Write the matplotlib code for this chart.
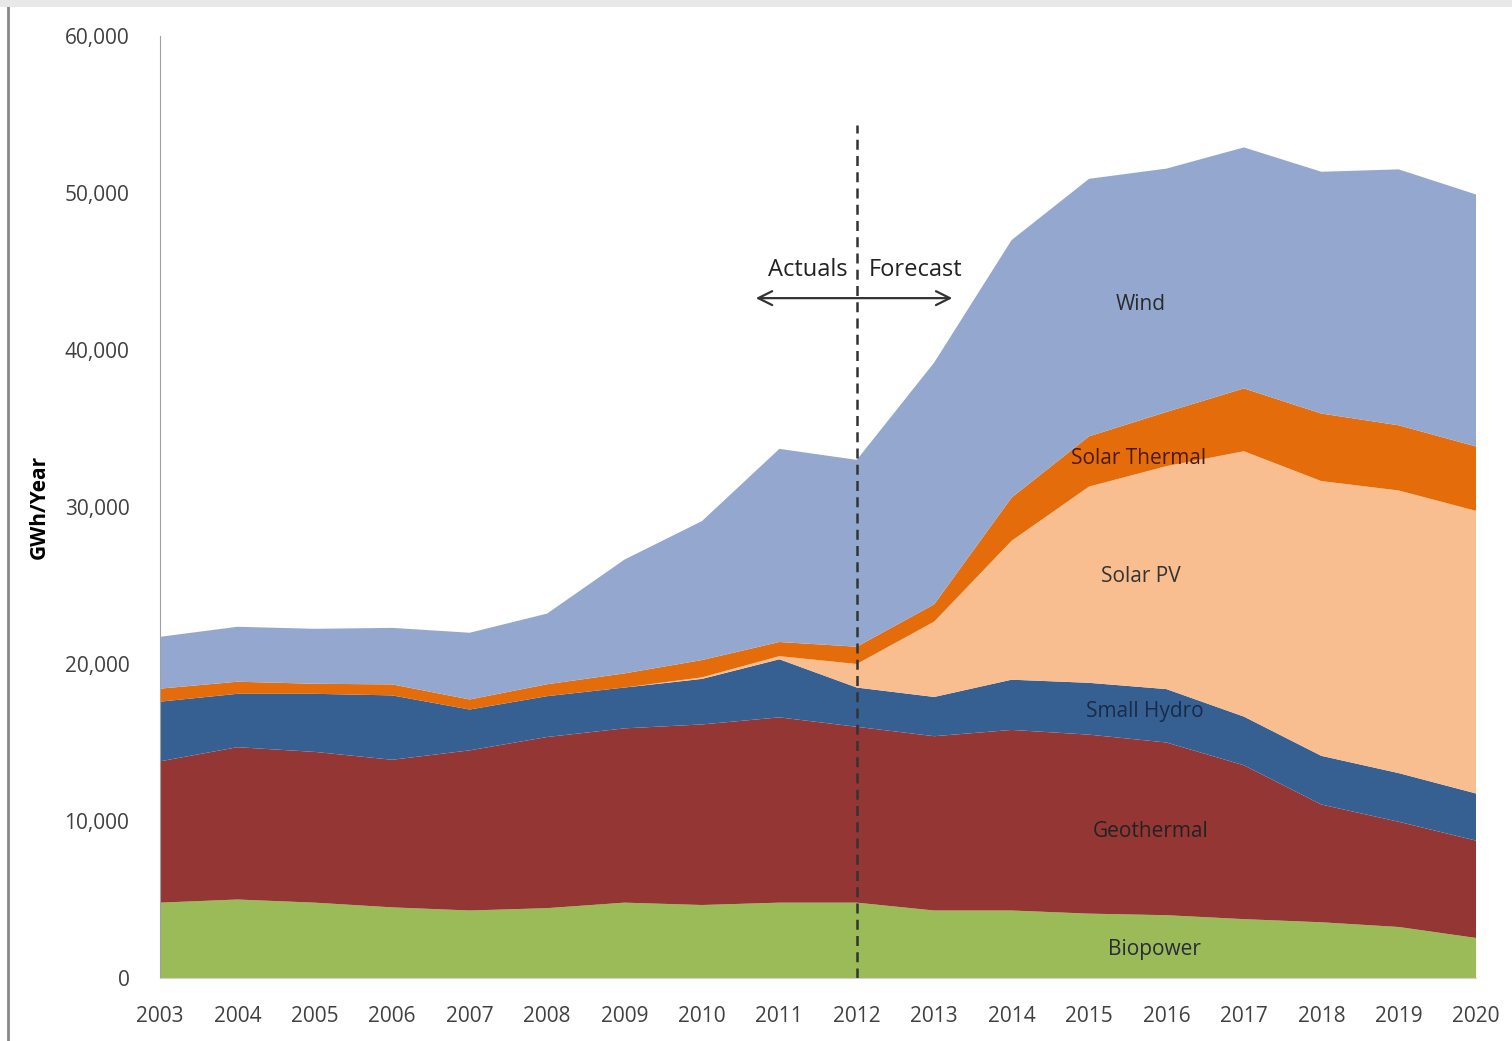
import numpy as np
import matplotlib
matplotlib.use("Agg")
import matplotlib.pyplot as plt
from matplotlib.lines import Line2D
from matplotlib.ticker import FuncFormatter

years = list(range(2003, 2021))

biopower = [4800, 5000, 4800, 4500, 4300, 4450, 4800, 4650, 4800, 4800,
            4300, 4300, 4100, 4000, 3750, 3550, 3250, 2550]
geothermal = [9000, 9700, 9600, 9400, 10200, 10900, 11100, 11500, 11800, 11200,
              11100, 11500, 11400, 11000, 9800, 7500, 6700, 6200]
small_hydro = [3800, 3400, 3700, 4100, 2600, 2600, 2600, 2900, 3700, 2500,
               2500, 3200, 3300, 3400, 3100, 3100, 3100, 3000]
solar_pv = [0, 0, 0, 0, 0, 0, 0, 100, 200, 1500,
            4800, 8850, 12500, 14200, 16900, 17500, 18000, 18000]
solar_thermal = [830, 770, 640, 700, 640, 760, 900, 1100, 900, 1100,
                 1100, 2750, 3200, 3450, 4000, 4300, 4150, 4100]
wind = [3300, 3500, 3500, 3600, 4250, 4500, 7250, 8850, 12300, 11900,
        15400, 16400, 16400, 15500, 15350, 15400, 16300, 16050]

series = [biopower, geothermal, small_hydro, solar_pv, solar_thermal, wind]
colors = ["#9BBB59", "#943634", "#376092", "#F9BE8F", "#E46C0A", "#94A8CF"]

plt.rcParams['font.family'] = ['Open Sans', 'DejaVu Sans']

fig = plt.figure(figsize=(15.12, 10.41), dpi=100)
ax = fig.add_axes([0.1058, 0.0605, 0.8705, 0.905])

ax.stackplot(years, *series, colors=colors, linewidth=0)

ax.set_xlim(2003, 2020)
ax.set_ylim(0, 60000)
ax.set_xticks(years)
ax.set_yticks(range(0, 60001, 10000))
ax.yaxis.set_major_formatter(FuncFormatter(lambda v, p: f"{int(v):,}"))
ax.tick_params(axis='both', length=0, labelsize=15, colors='#404040')
ax.tick_params(axis='x', pad=20)
ax.tick_params(axis='y', pad=22)

for s in ['top', 'right']:
    ax.spines[s].set_visible(False)
ax.spines['left'].set_color('#A0A0A0')
ax.spines['bottom'].set_color('#D0D0D0')

ax.set_ylabel("GWh/Year", fontsize=15, fontweight='bold', color='black', labelpad=11)

# actuals / forecast divider
ax.plot([2012, 2012], [0, 54300], linestyle=(0, (4, 2.5)), color='#333333', linewidth=1.8)
ax.annotate("", xy=(2010.66, 43300), xytext=(2013.27, 43300),
            arrowprops=dict(arrowstyle='<->', color='#333333', lw=1.6,
                            mutation_scale=25))
ax.text(2011.88, 45100, "Actuals", ha='right', va='center', fontsize=17, color='#222222')
ax.text(2012.16, 45100, "Forecast", ha='left', va='center', fontsize=17, color='#222222')

# series labels
ax.text(2015.67, 42900, "Wind", ha='center', va='center', fontsize=15, color='#2A2A2A')
ax.text(2015.64, 33100, "Solar Thermal", ha='center', va='center', fontsize=15, color='#4A1A10')
ax.text(2015.67, 25600, "Solar PV", ha='center', va='center', fontsize=15, color='#333333')
ax.text(2015.72, 17000, "Small Hydro", ha='center', va='center', fontsize=15, color='#1A2A4A')
ax.text(2015.8, 9300, "Geothermal", ha='center', va='center', fontsize=15, color='#222222')
ax.text(2015.85, 1800, "Biopower", ha='center', va='center', fontsize=15, color='#2A2A3A')

# frame of the original picture
fig.add_artist(Line2D([0.0055, 0.0055], [0, 1], color='#888888', linewidth=2,
                      transform=fig.transFigure))
fig.add_artist(Line2D([0, 1], [0.997, 0.997], color='#E8E8E8', linewidth=5,
                      transform=fig.transFigure))

fig.savefig("out.png", dpi=100)
